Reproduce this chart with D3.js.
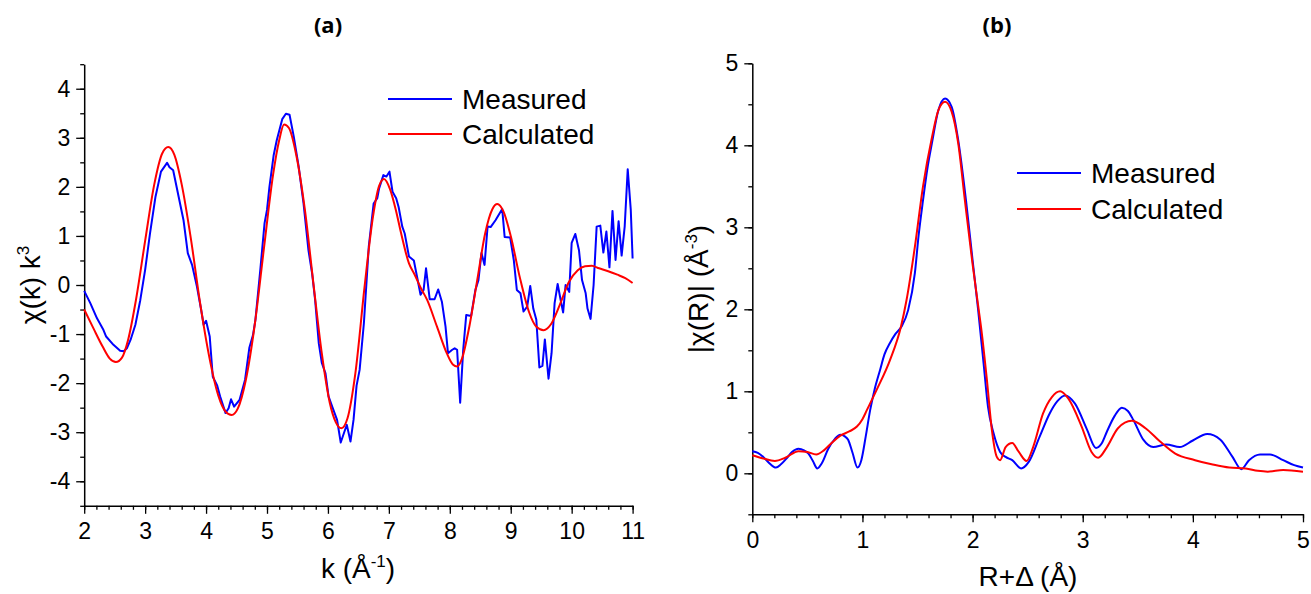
<!DOCTYPE html>
<html>
<head>
<meta charset="utf-8">
<script src="https://cdn.jsdelivr.net/npm/d3@7"></script>
<style>
  body { margin: 0; background: #fff; }
  text { font-family: "Liberation Sans", Arial, sans-serif; fill: #000; }
</style>
</head>
<body>
<svg id="chart" width="1311" height="594"></svg>
<script>
// (a) chi(k) k^3, measured vs calculated  [k, value]
const measuredK = [
  [2.00,-0.12],[2.10,-0.37],[2.21,-0.68],[2.31,-0.90],[2.36,-1.05],[2.48,-1.22],[2.59,-1.34],[2.65,-1.35],
  [2.70,-1.29],[2.76,-1.12],[2.84,-0.81],[2.92,-0.31],[3.00,0.31],[3.08,1.05],[3.17,1.80],[3.26,2.31],
  [3.36,2.49],[3.40,2.40],[3.46,2.34],[3.55,1.80],[3.63,1.32],[3.70,0.65],[3.77,0.41],[3.85,-0.03],
  [3.92,-0.51],[3.96,-0.81],[4.00,-0.73],[4.06,-1.05],[4.11,-1.87],[4.18,-2.04],[4.23,-2.27],[4.32,-2.61],
  [4.37,-2.51],[4.41,-2.33],[4.46,-2.48],[4.55,-2.34],[4.64,-1.93],[4.71,-1.28],[4.77,-1.02],[4.81,-0.71],
  [4.89,0.31],[4.96,1.26],[5.00,1.53],[5.04,2.00],[5.11,2.65],[5.16,2.95],[5.25,3.38],[5.31,3.49],
  [5.37,3.47],[5.44,3.02],[5.52,2.41],[5.60,1.66],[5.68,0.71],[5.74,0.24],[5.79,-0.31],[5.85,-1.19],
  [5.90,-1.59],[5.96,-1.80],[6.01,-2.27],[6.07,-2.48],[6.15,-2.75],[6.21,-3.21],[6.27,-2.99],[6.31,-2.85],
  [6.37,-3.19],[6.42,-2.75],[6.47,-2.05],[6.52,-1.73],[6.59,-0.78],[6.67,0.78],[6.75,1.66],[6.81,1.77],
  [6.84,1.97],[6.91,2.24],[6.96,2.21],[7.01,2.31],[7.06,1.90],[7.12,1.77],[7.16,1.59],[7.22,1.19],
  [7.26,1.05],[7.33,0.58],[7.41,0.50],[7.52,-0.20],[7.57,-0.10],[7.61,0.34],[7.67,-0.29],[7.75,-0.29],
  [7.81,-0.09],[7.87,-0.34],[7.93,-0.85],[7.97,-1.39],[8.04,-1.32],[8.08,-1.29],[8.12,-1.32],[8.17,-2.40],
  [8.22,-1.32],[8.27,-0.61],[8.35,-0.63],[8.42,-0.10],[8.47,0.10],[8.52,0.65],[8.57,0.41],[8.62,1.19],
  [8.67,1.18],[8.75,1.32],[8.86,1.55],[8.90,0.98],[8.99,0.97],[9.05,0.51],[9.10,-0.10],[9.16,-0.17],
  [9.21,-0.54],[9.27,-0.44],[9.32,-0.02],[9.37,-0.48],[9.42,-0.71],[9.47,-1.68],[9.52,-1.65],[9.56,-1.11],
  [9.62,-1.91],[9.67,-1.39],[9.72,-0.37],[9.77,0.02],[9.82,-0.31],[9.86,-0.56],[9.90,0.00],[9.96,-0.14],
  [10.00,0.86],[10.06,1.04],[10.12,0.71],[10.17,0.10],[10.23,-0.17],[10.26,-0.48],[10.31,-0.69],[10.36,0.00],
  [10.41,1.19],[10.47,1.21],[10.52,0.66],[10.57,1.09],[10.62,0.36],[10.67,1.51],[10.72,0.51],[10.77,1.30],
  [10.82,0.60],[10.87,1.19],[10.92,2.36],[10.97,1.53],[11.00,0.54]
];

const calculatedK = [
  [2.00,-0.50],[2.15,-0.88],[2.30,-1.25],[2.42,-1.50],[2.52,-1.57],[2.62,-1.48],[2.72,-1.12],[2.85,-0.30],
  [3.00,0.90],[3.15,2.05],[3.28,2.68],[3.38,2.81],[3.48,2.65],[3.60,2.05],[3.75,0.95],[3.90,-0.35],
  [4.05,-1.45],[4.20,-2.25],[4.32,-2.58],[4.42,-2.65],[4.52,-2.52],[4.65,-1.95],[4.80,-0.80],[4.95,0.75],
  [5.10,2.25],[5.20,2.95],[5.28,3.27],[5.36,3.20],[5.48,2.65],[5.62,1.55],[5.76,0.05],[5.90,-1.40],
  [6.03,-2.40],[6.13,-2.80],[6.22,-2.92],[6.32,-2.72],[6.45,-1.80],[6.60,-0.05],[6.74,1.40],[6.84,2.02],
  [6.92,2.16],[7.02,1.95],[7.12,1.50],[7.20,1.06],[7.33,0.44],[7.42,0.22],[7.52,-0.05],[7.63,-0.31],
  [7.79,-0.85],[7.95,-1.39],[8.05,-1.62],[8.12,-1.66],[8.20,-1.50],[8.32,-0.85],[8.45,0.10],[8.58,1.05],
  [8.70,1.55],[8.78,1.65],[8.88,1.50],[9.00,1.00],[9.15,0.15],[9.30,-0.55],[9.42,-0.85],[9.54,-0.92],
  [9.66,-0.80],[9.80,-0.42],[9.95,0.05],[10.10,0.30],[10.22,0.38],[10.33,0.39],[10.45,0.34],[10.60,0.28],
  [10.75,0.21],[10.88,0.14],[11.00,0.04]
];

// (b) |chi(R)|, measured vs calculated  [R, value]
const measuredR = [
  [0.00,0.27],[0.05,0.25],[0.10,0.20],[0.15,0.13],[0.215,0.07],[0.26,0.11],[0.31,0.18],[0.36,0.26],
  [0.42,0.30],[0.47,0.28],[0.51,0.24],[0.55,0.15],[0.59,0.06],[0.63,0.12],[0.69,0.30],[0.75,0.42],
  [0.80,0.47],[0.84,0.45],[0.87,0.41],[0.91,0.25],[0.955,0.07],[0.99,0.16],[1.03,0.45],[1.07,0.77],
  [1.11,1.02],[1.16,1.26],[1.20,1.45],[1.25,1.59],[1.30,1.70],[1.355,1.79],[1.415,1.99],[1.476,2.44],
  [1.51,2.90],[1.55,3.33],[1.59,3.72],[1.63,4.02],[1.69,4.43],[1.75,4.57],[1.81,4.47],[1.87,4.06],
  [1.94,3.33],[2.00,2.60],[2.05,2.00],[2.10,1.34],[2.14,0.81],[2.19,0.49],[2.25,0.26],[2.30,0.20],
  [2.36,0.16],[2.44,0.06],[2.51,0.14],[2.61,0.45],[2.70,0.73],[2.77,0.88],[2.84,0.95],[2.93,0.85],
  [3.04,0.53],[3.12,0.31],[3.17,0.36],[3.22,0.51],[3.29,0.70],[3.355,0.80],[3.41,0.76],[3.46,0.65],
  [3.55,0.41],[3.64,0.32],[3.76,0.35],[3.88,0.32],[4.00,0.40],[4.13,0.48],[4.25,0.41],[4.36,0.20],
  [4.44,0.05],[4.51,0.16],[4.61,0.23],[4.70,0.23],[4.82,0.16],[4.92,0.10],[5.00,0.07]
];

const calculatedR = [
  [0.00,0.22],[0.10,0.18],[0.205,0.15],[0.30,0.19],[0.42,0.27],[0.50,0.26],[0.58,0.23],[0.65,0.28],
  [0.72,0.37],[0.80,0.46],[0.88,0.51],[0.95,0.57],[1.00,0.66],[1.04,0.77],[1.13,1.02],[1.25,1.38],
  [1.35,1.79],[1.40,2.11],[1.476,2.76],[1.55,3.50],[1.63,4.09],[1.69,4.43],[1.75,4.53],[1.81,4.41],
  [1.87,4.02],[1.93,3.33],[2.00,2.55],[2.05,2.05],[2.08,1.75],[2.13,1.14],[2.175,0.53],[2.22,0.20],
  [2.25,0.16],[2.30,0.32],[2.36,0.37],[2.42,0.26],[2.49,0.15],[2.55,0.32],[2.64,0.73],[2.72,0.93],
  [2.795,1.00],[2.87,0.91],[2.99,0.57],[3.08,0.26],[3.14,0.19],[3.22,0.32],[3.32,0.55],[3.445,0.64],
  [3.57,0.55],[3.70,0.39],[3.84,0.24],[4.02,0.16],[4.17,0.11],[4.33,0.07],[4.48,0.06],[4.59,0.03],
  [4.68,0.02],[4.82,0.04],[5.00,0.02]
];

// tick values
const kTicks = d3.range(2, 12, 1);
const kMinor = d3.range(2, 11.001, 0.2);
const chiTicks = d3.range(-4, 5, 1);
const chiMinor = d3.range(-4.5, 4.51, 0.5);
const rTicks = d3.range(0, 6, 1);
const rMinor = d3.range(0, 5.001, 0.2);
const ftTicks = d3.range(0, 6, 1);
const ftMinor = d3.range(-0.5, 5.01, 0.5);

const legendLabels = ["Measured", "Calculated"];
const colors = ["#0000ff", "#ff0000"];

const svg = d3.select("#chart");

function drawPanel(p) {
    const g = svg.append("g");

    // minor ticks first
    g.append("g")
        .attr("transform", `translate(0, ${p.y.range()[0]})`)
        .call(d3.axisBottom(p.x).tickValues(p.xMinor).tickSize(4).tickSizeOuter(0).tickFormat(""))
        .call(a => a.select(".domain").remove());
    g.append("g")
        .attr("transform", `translate(${p.x.range()[0]}, 0)`)
        .call(d3.axisLeft(p.y).tickValues(p.yMinor).tickSize(4).tickSizeOuter(0).tickFormat(""))
        .call(a => a.select(".domain").remove());

    // major axes
    const xAxis = g.append("g")
        .attr("transform", `translate(0, ${p.y.range()[0]})`)
        .call(d3.axisBottom(p.x).tickValues(p.xTicks).tickSize(8).tickSizeOuter(0).tickPadding(9)
            .tickFormat(d => String(d)));
    const yAxis = g.append("g")
        .attr("transform", `translate(${p.x.range()[0]}, 0)`)
        .call(d3.axisLeft(p.y).tickValues(p.yTicks).tickSize(8).tickSizeOuter(0).tickPadding(6)
            .tickFormat(d => String(d)));

    [xAxis, yAxis].forEach(a => {
        a.selectAll("text").style("font-size", "23px").attr("fill", "#000")
            .style("font-family", "'Liberation Sans', Arial, sans-serif");
        a.select(".domain").attr("stroke-width", 1.5);
    });
    g.selectAll(".tick line").attr("stroke-width", 1.3);

    // curves
    const line = (curve) => d3.line().x(d => p.x(d[0])).y(d => p.y(d[1])).curve(curve);
    g.append("path").datum(p.measured)
        .attr("fill", "none").attr("stroke", colors[0]).attr("stroke-width", 2)
        .attr("stroke-linejoin", "round")
        .attr("d", line(p.measuredCurve));
    g.append("path").datum(p.calculated)
        .attr("fill", "none").attr("stroke", colors[1]).attr("stroke-width", 2)
        .attr("d", line(d3.curveMonotoneX));

    // legend
    legendLabels.forEach((lab, i) => {
        const ly = p.legend.y + i * p.legend.gap;
        g.append("line")
            .attr("x1", p.legend.x).attr("x2", p.legend.x + 64)
            .attr("y1", ly).attr("y2", ly)
            .attr("stroke", colors[i]).attr("stroke-width", 2);
        g.append("text")
            .attr("x", p.legend.x + 74).attr("y", ly + 9.5)
            .style("font-size", "28px")
            .text(lab);
    });

    // panel title
    g.append("text")
        .attr("x", p.titleX).attr("y", 33)
        .attr("text-anchor", "middle")
        .style("font-family", "'Open Sans', sans-serif")
        .style("font-weight", "bold")
        .style("font-size", "22px")
        .text(p.title);

    return g;
}

// Panel (a)
const xA = d3.scaleLinear().domain([2, 11]).range([84.2, 632.6]);
const yA = d3.scaleLinear().domain([-4.5, 4.5]).range([505.8, 64.2]);
const gA = drawPanel({
    x: xA, y: yA,
    xTicks: kTicks, xMinor: kMinor, yTicks: chiTicks, yMinor: chiMinor,
    measured: measuredK, calculated: calculatedK, measuredCurve: d3.curveLinear,
    legend: { x: 388, y: 99, gap: 35 },
    title: "(a)", titleX: 328
});

// Panel (b)
const xB = d3.scaleLinear().domain([0, 5]).range([752.3, 1303]);
const yB = d3.scaleLinear().domain([-0.5, 5]).range([514.3, 63.3]);
const gB = drawPanel({
    x: xB, y: yB,
    xTicks: rTicks, xMinor: rMinor, yTicks: ftTicks, yMinor: ftMinor,
    measured: measuredR, calculated: calculatedR, measuredCurve: d3.curveMonotoneX,
    legend: { x: 1017, y: 173, gap: 36 },
    title: "(b)", titleX: 997
});

// Axis titles
const xt1 = gA.append("text").attr("x", 358).attr("y", 578).attr("text-anchor", "middle").style("font-size", "28px");
xt1.append("tspan").text("k (Å");
xt1.append("tspan").attr("dy", -11).style("font-size", "17px").text("-1");
xt1.append("tspan").attr("dy", 11).text(")");

const yt1 = gA.append("text").attr("transform", "translate(40, 285) rotate(-90)")
    .attr("text-anchor", "middle").style("font-size", "28px");
yt1.append("tspan").text("χ(k) k");
yt1.append("tspan").attr("dy", -11).style("font-size", "17px").text("3");

const xt2 = gB.append("text").attr("x", 1028).attr("y", 586).attr("text-anchor", "middle").style("font-size", "28px");
xt2.append("tspan").text("R+Δ (Å)");

const yt2 = gB.append("text").attr("transform", "translate(708, 289) rotate(-90)")
    .attr("text-anchor", "middle").style("font-size", "28px");
yt2.append("tspan").text("|χ(R)| (Å");
yt2.append("tspan").attr("dy", -11).style("font-size", "17px").text("-3");
yt2.append("tspan").attr("dy", 11).text(")");
</script>
</body>
</html>
